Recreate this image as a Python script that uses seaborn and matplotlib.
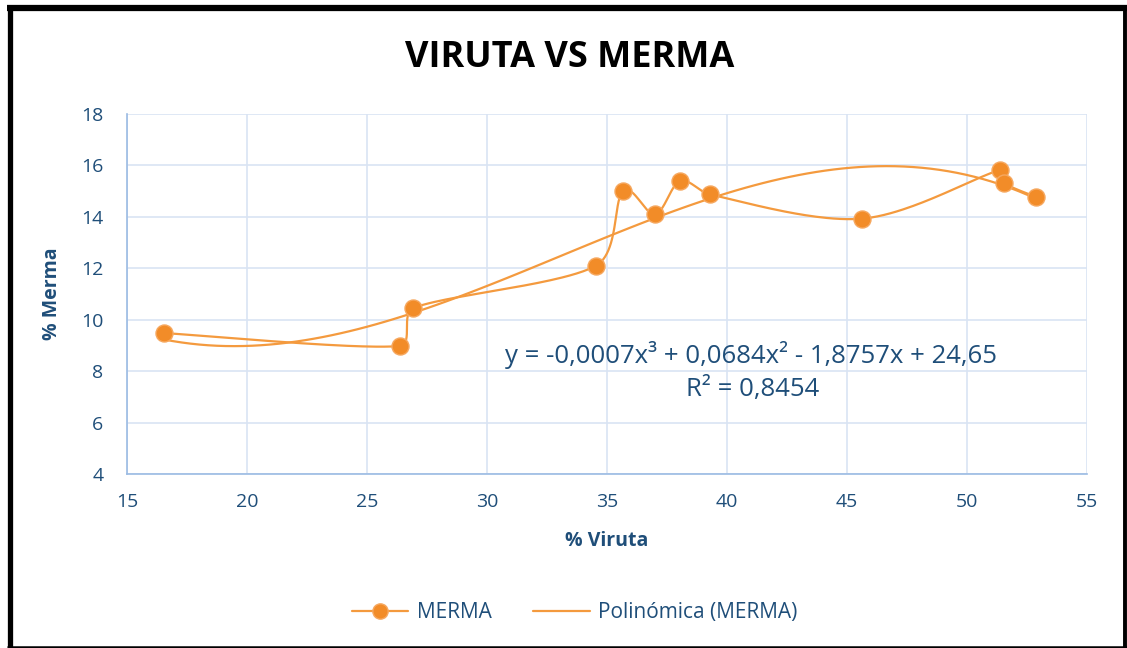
import numpy as np
import pandas as pd
import matplotlib
matplotlib.use("Agg")
import matplotlib.pyplot as plt
from matplotlib.lines import Line2D
import seaborn as sns

# ---- data ----
viruta = [16.54, 26.38, 26.92, 34.54, 35.67, 37.0, 38.04, 39.29, 45.63, 51.38, 51.54, 52.88]
merma = [9.48, 8.98, 10.45, 12.1, 15.0, 14.1, 15.39, 14.87, 13.93, 15.82, 15.32, 14.77]
x_ticks = [15, 20, 25, 30, 35, 40, 45, 50, 55]
y_ticks = [4, 6, 8, 10, 12, 14, 16, 18]
title = "VIRUTA VS MERMA"
x_label = "% Viruta"
y_label = "% Merma"
series_name = "MERMA"
trend_name = "Polinómica (MERMA)"
equation = "y = -0,0007x³ + 0,0684x² - 1,8757x + 24,65"
r2_text = "R² = 0,8454"

sns.set_theme(style="white")
plt.rcParams['font.family'] = ['Open Sans', 'DejaVu Sans']

TXT = "#1F4E79"
ORANGE_LINE = "#F49A3E"
ORANGE_MK = "#F28C28"

fig = plt.figure(figsize=(11.27, 6.48), dpi=100)
ax = fig.add_axes([0.1127, 0.2685, 0.8518, 0.5556])

df = pd.DataFrame({"viruta": viruta, "merma": merma})

# Excel-like smoothed line (Bezier in screen-scaled coordinates, clamped tangents)
sx, sy = 24.0, 25.71
P = np.column_stack([(np.array(viruta) - 15) * sx, (np.array(merma) - 4) * sy])
pts = np.vstack([P[0], P, P[-1]])


def clamp(v, lim):
    n = np.linalg.norm(v)
    if n > lim and n > 0:
        return v * lim / n
    return v


curve = []
for i in range(1, len(pts) - 2):
    p0, p1, p2, p3 = pts[i - 1], pts[i], pts[i + 1], pts[i + 2]
    seg = np.linalg.norm(p2 - p1)
    c1 = p1 + clamp((p2 - p0) / 6.0, seg / 3.0)
    c2 = p2 - clamp((p3 - p1) / 6.0, seg / 3.0)
    t = np.linspace(0, 1, 50)[:, None]
    b = (1 - t) ** 3 * p1 + 3 * (1 - t) ** 2 * t * c1 + 3 * (1 - t) * t ** 2 * c2 + t ** 3 * p2
    curve.append(b if i == 1 else b[1:])
curve = np.vstack(curve)
smooth = pd.DataFrame({"viruta": curve[:, 0] / sx + 15, "merma": curve[:, 1] / sy + 4})

sns.lineplot(data=smooth, x="viruta", y="merma", sort=False, ax=ax,
             color=ORANGE_LINE, lw=1.6, estimator=None, zorder=3)
# Polynomial trend line (order 3)
sns.regplot(data=df, x="viruta", y="merma", order=3, ci=None, scatter=False, ax=ax,
            line_kws=dict(color=ORANGE_LINE, lw=1.6, zorder=2))
sns.scatterplot(data=df, x="viruta", y="merma", ax=ax, s=150, color=ORANGE_MK,
                edgecolor="#F6A860", linewidth=1.0, zorder=4)

ax.set_xlim(15, 55)
ax.set_ylim(4, 18)
ax.set_xticks(x_ticks)
ax.set_yticks(y_ticks)
ax.tick_params(axis="x", length=0, labelsize=14, labelcolor=TXT, pad=14)
ax.tick_params(axis="y", length=0, labelsize=14, labelcolor=TXT, pad=17)
ax.grid(True, color="#D9E4F3", lw=1.2)
for s in ["top", "right"]:
    ax.spines[s].set_visible(False)
for s in ["left", "bottom"]:
    ax.spines[s].set_color("#9BBBE3")
    ax.spines[s].set_linewidth(1.2)
ax.set_xlabel(x_label, fontsize=14, fontweight="bold", color=TXT, labelpad=14)
ax.set_ylabel(y_label, fontsize=14, fontweight="bold", color=TXT, labelpad=14)

ax.text(41.0, 8.63, equation, fontsize=18.5, color=TXT, ha="center", va="center")
ax.text(41.05, 7.27, r2_text, fontsize=18.5, color=TXT, ha="center", va="center")

fig.text(0.505, 0.91, title, fontsize=26, fontweight="bold", color="black",
         ha="center", va="center")

handles = [
    Line2D([0], [0], color=ORANGE_LINE, lw=1.6, marker="o", markersize=11,
           markerfacecolor=ORANGE_MK, markeredgecolor="#F6A860"),
    Line2D([0], [0], color=ORANGE_LINE, lw=1.6),
]
leg = fig.legend(handles, [series_name, trend_name], loc="center",
                 bbox_to_anchor=(0.51, 0.055), ncol=2, frameon=False,
                 fontsize=15, handlelength=2.7, handletextpad=0.4, columnspacing=2.0)
for t in leg.get_texts():
    t.set_color(TXT)

# Frame around the chart (thick left/top, thinner right/bottom)
W, H = 1127.0, 648.0
fig.add_artist(Line2D([9.5 / W, 9.5 / W], [1 - 5 / H, 0], transform=fig.transFigure,
                      color="black", lw=3.8, solid_capstyle="butt"))
fig.add_artist(Line2D([7 / W, 1], [1 - 8 / H, 1 - 8 / H], transform=fig.transFigure,
                      color="black", lw=4.5, solid_capstyle="butt"))
fig.add_artist(Line2D([1 - 1.8 / W, 1 - 1.8 / W], [0, 1 - 5 / H], transform=fig.transFigure,
                      color="black", lw=2.8, solid_capstyle="butt"))
fig.add_artist(Line2D([7 / W, 1], [1.2 / H, 1.2 / H], transform=fig.transFigure,
                      color="black", lw=1.8, solid_capstyle="butt"))

fig.savefig("out.png", dpi=100)
